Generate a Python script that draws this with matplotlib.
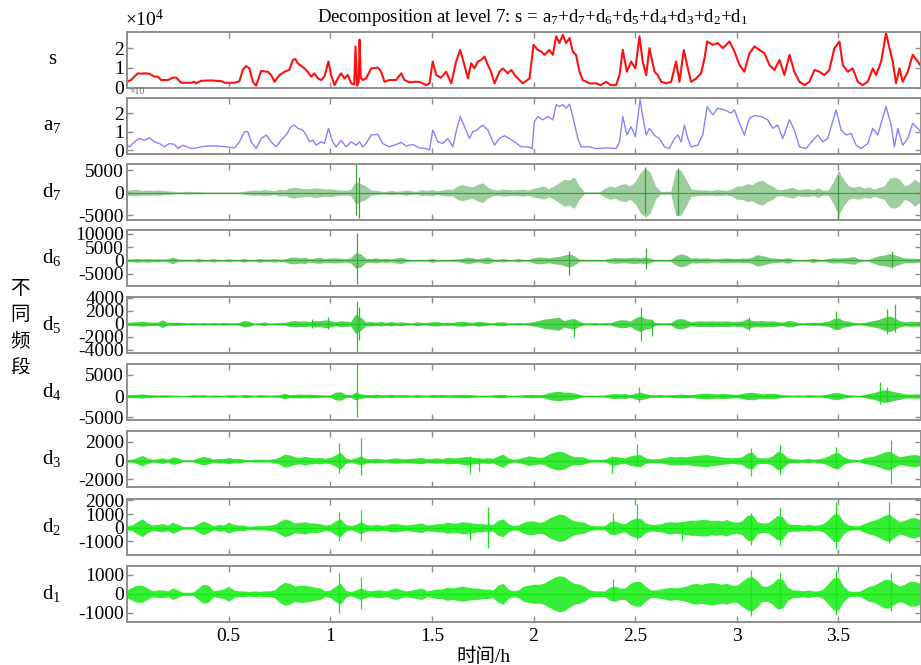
import numpy as np
import matplotlib.pyplot as plt

plt.rcParams['font.family'] = ['Liberation Serif', 'Noto Sans CJK SC']
plt.rcParams['mathtext.default'] = 'regular'

# original signal s and approximation a7 (units of 10^4)
s_t = [0.0, 0.02, 0.053, 0.07, 0.086, 0.111, 0.135, 0.152, 0.168, 0.201, 0.225, 0.242,
       0.267, 0.316, 0.33, 0.34, 0.365, 0.414, 0.465, 0.48, 0.529, 0.553, 0.57, 0.586,
       0.602, 0.619, 0.635, 0.66, 0.693, 0.709, 0.726, 0.75, 0.775, 0.799, 0.816, 0.828,
       0.84, 0.873, 0.889, 0.906, 0.922, 0.939, 0.955, 0.971, 0.991, 1.004, 1.021, 1.037,
       1.053, 1.07, 1.086, 1.103, 1.118, 1.124, 1.132, 1.14, 1.144, 1.15, 1.16, 1.176,
       1.201, 1.234, 1.25, 1.267, 1.291, 1.324, 1.349, 1.365, 1.39, 1.415, 1.439, 1.472,
       1.488, 1.504, 1.521, 1.545, 1.57, 1.595, 1.619, 1.639, 1.655, 1.677, 1.693, 1.709,
       1.726, 1.742, 1.759, 1.775, 1.791, 1.808, 1.832, 1.849, 1.873, 1.89, 1.914, 1.947,
       1.98, 2.0, 2.021, 2.037, 2.054, 2.078, 2.095, 2.111, 2.127, 2.144, 2.16, 2.177,
       2.193, 2.209, 2.226, 2.242, 2.275, 2.308, 2.33, 2.357, 2.38, 2.406, 2.423, 2.439,
       2.459, 2.48, 2.501, 2.521, 2.537, 2.554, 2.57, 2.595, 2.611, 2.628, 2.652, 2.677,
       2.701, 2.718, 2.739, 2.759, 2.775, 2.8, 2.824, 2.841, 2.854, 2.882, 2.906, 2.931,
       2.964, 2.988, 3.013, 3.037, 3.062, 3.087, 3.111, 3.136, 3.16, 3.185, 3.21, 3.234,
       3.259, 3.283, 3.308, 3.333, 3.357, 3.382, 3.406, 3.431, 3.455, 3.48, 3.505, 3.521,
       3.546, 3.57, 3.595, 3.619, 3.644, 3.669, 3.685, 3.71, 3.734, 3.751, 3.767, 3.783,
       3.8, 3.816, 3.841, 3.865, 3.89, 3.905]
s_v = [0.29, 0.38, 0.72, 0.7, 0.72, 0.7, 0.55, 0.55, 0.38, 0.38, 0.5, 0.5,
       0.24, 0.24, 0.29, 0.21, 0.34, 0.36, 0.32, 0.24, 0.24, 0.32, 0.9, 1.09,
       0.97, 0.29, 0.09, 0.84, 0.8, 0.63, 0.29, 0.63, 0.8, 0.9, 1.4, 1.45,
       1.23, 0.97, 0.8, 0.55, 0.72, 0.46, 0.38, 0.55, 1.32, 0.63, 0.12, 0.46,
       0.72, 0.46, 0.63, 0.21, 0.15, 2.09, 0.09, 0.3, 2.43, 0.5, 0.38, 0.46,
       0.97, 1.01, 0.8, 0.29, 0.38, 0.38, 0.72, 0.38, 0.26, 0.29, 0.29, 0.12,
       0.21, 1.32, 0.63, 0.5, 0.8, 0.21, 1.32, 1.91, 1.32, 0.46, 1.23, 0.97,
       1.32, 1.4, 1.57, 1.15, 0.8, 0.21, 0.8, 0.97, 0.72, 0.89, 0.55, 0.21,
       0.46, 2.17, 1.91, 1.83, 1.66, 1.91, 1.66, 2.6, 2.26, 2.68, 2.26, 2.51,
       1.83, 1.66, 0.8, 0.38, 0.21, 0.21, 0.12, 0.29, 0.12, 0.12, 0.63, 1.91,
       0.8, 1.32, 0.97, 2.6, 1.32, 0.63, 2.0, 0.8, 0.63, 0.29, 0.21, 0.29,
       1.32, 0.29, 1.91, 0.97, 0.29, 0.46, 0.72, 1.49, 2.34, 2.17, 2.26, 2.0,
       2.34, 1.83, 1.15, 0.8, 1.74, 2.09, 1.91, 1.74, 1.15, 0.89, 1.4, 0.63,
       1.66, 0.8, 0.29, 0.12, 0.29, 0.89, 0.8, 0.63, 0.89, 2.0, 2.34, 1.15,
       0.8, 0.97, 0.29, 0.12, 0.29, 0.97, 0.63, 1.32, 2.77, 2.0, 1.32, 0.21,
       0.97, 0.29, 0.8, 1.66, 1.32, 1.1]

a7_t = [0.0, 0.012, 0.037, 0.061, 0.086, 0.111, 0.135, 0.16, 0.184, 0.209, 0.234, 0.25,
        0.275, 0.316, 0.34, 0.365, 0.398, 0.447, 0.488, 0.529, 0.553, 0.578, 0.594, 0.611,
        0.635, 0.66, 0.685, 0.709, 0.734, 0.758, 0.783, 0.807, 0.824, 0.84, 0.865, 0.881,
        0.898, 0.914, 0.93, 0.955, 0.971, 0.991, 1.012, 1.029, 1.053, 1.078, 1.103, 1.127,
        1.144, 1.16, 1.176, 1.201, 1.234, 1.258, 1.291, 1.324, 1.349, 1.373, 1.406, 1.439,
        1.472, 1.488, 1.504, 1.529, 1.554, 1.578, 1.603, 1.619, 1.639, 1.66, 1.685, 1.701,
        1.721, 1.75, 1.775, 1.808, 1.832, 1.857, 1.881, 1.906, 1.939, 1.972, 1.993, 2.004,
        2.021, 2.045, 2.07, 2.095, 2.111, 2.127, 2.144, 2.16, 2.177, 2.193, 2.218, 2.234,
        2.275, 2.308, 2.357, 2.406, 2.423, 2.439, 2.459, 2.48, 2.501, 2.524, 2.537, 2.554,
        2.57, 2.595, 2.619, 2.644, 2.668, 2.693, 2.71, 2.726, 2.742, 2.759, 2.775, 2.808,
        2.832, 2.854, 2.882, 2.906, 2.939, 2.972, 2.988, 3.013, 3.037, 3.062, 3.087, 3.119,
        3.152, 3.177, 3.201, 3.226, 3.259, 3.283, 3.308, 3.341, 3.374, 3.398, 3.423, 3.447,
        3.488, 3.513, 3.537, 3.562, 3.587, 3.611, 3.644, 3.669, 3.693, 3.734, 3.759, 3.775,
        3.792, 3.816, 3.841, 3.865, 3.89, 3.905]
a7_v = [0.27, 0.18, 0.45, 0.63, 0.54, 0.67, 0.45, 0.36, 0.18, 0.36, 0.31, 0.09,
        0.27, 0.09, 0.12, 0.18, 0.23, 0.23, 0.18, 0.12, 0.45, 1.0, 1.0, 0.45,
        0.09, 0.63, 0.82, 0.45, 0.18, 0.54, 0.82, 1.27, 1.36, 1.18, 1.09, 0.82,
        0.45, 0.54, 0.27, 0.45, 0.36, 1.18, 0.45, 0.18, 0.54, 0.18, 0.45, 0.27,
        0.45, 0.18, 0.36, 0.82, 0.85, 0.36, 0.18, 0.31, 0.42, 0.23, 0.31, 0.12,
        0.09, 0.0, 1.09, 0.45, 0.36, 0.63, 0.18, 1.0, 1.82, 1.27, 0.63, 1.0,
        1.09, 1.36, 1.09, 0.27, 0.63, 0.78, 0.63, 0.45, 0.18, 0.18, 0.09, 1.54,
        1.82, 1.64, 1.82, 1.64, 2.46, 2.36, 2.46, 2.27, 2.49, 1.82, 0.63, 0.18,
        0.18, 0.09, 0.12, 0.09, 0.45, 1.82, 0.82, 1.27, 0.72, 2.73, 1.82, 0.82,
        1.18, 0.8, 0.63, 0.18, 0.09, 0.63, 0.82, 0.45, 1.36, 0.63, 0.18, 0.27,
        0.82, 2.36, 1.91, 2.27, 2.18, 2.0, 2.18, 1.45, 0.82, 1.73, 1.87, 1.82,
        1.64, 1.18, 1.36, 0.63, 1.64, 1.09, 0.18, 0.09, 0.54, 0.82, 0.45, 0.63,
        2.18, 1.09, 0.82, 0.91, 0.27, 0.09, 0.36, 1.18, 0.82, 2.36, 1.36, 0.18,
        1.18, 0.27, 0.63, 1.45, 1.18, 1.0]

# detail envelopes (half peak-to-peak), one value every 0.025 h from 0 to 3.9 h
d7_amp = [500, 700, 700, 500, 600, 500, 600, 500, 400, 300, 200, 250, 300, 250, 250, 200,
          150, 150, 150, 200, 150, 150, 150, 300, 500, 600, 500, 700, 600, 400, 800, 600,
          1100, 1200, 1000, 900, 900, 1100, 1000, 800, 900, 700, 600, 500, 700, 2500, 2000, 1500,
          600, 500, 300, 300, 500, 300, 400, 600, 400, 300, 700, 500, 700, 400, 600, 800,
          700, 1500, 1800, 1500, 1300, 1900, 2200, 1200, 700, 600, 800, 700, 600, 700, 800, 600,
          1000, 1200, 1500, 900, 1500, 2200, 3000, 2800, 3500, 1500, 200, 200, 200, 200, 1000, 1500,
          1200, 1800, 2000, 1500, 2500, 4500, 5500, 4500, 1500, 300, 300, 300, 5200, 5000, 3000, 800,
          700, 600, 600, 500, 700, 600, 500, 800, 1500, 1500, 2000, 1800, 2500, 2800, 2000, 1500,
          700, 700, 1000, 1200, 700, 800, 900, 600, 1100, 500, 600, 2500, 5000, 3000, 1500, 1200,
          1500, 1000, 1300, 800, 1200, 1500, 3200, 3500, 3000, 1500, 2000, 3000, 2200]
d6_amp = [500, 500, 800, 500, 700, 500, 600, 400, 600, 1300, 500, 400, 400, 300, 700, 400,
          300, 700, 300, 300, 600, 300, 300, 700, 300, 300, 700, 500, 400, 700, 400, 500,
          1200, 1300, 1000, 1200, 600, 1000, 1100, 700, 900, 1000, 800, 600, 1000, 3000, 2500, 800,
          700, 1000, 600, 800, 500, 1000, 1200, 500, 300, 300, 300, 300, 800, 300, 300, 300,
          400, 500, 800, 1200, 1000, 500, 1000, 1300, 500, 400, 700, 300, 300, 700, 300, 300,
          1000, 1300, 1200, 900, 1300, 1500, 2000, 2500, 1800, 400, 300, 300, 300, 300, 300, 900,
          1100, 1000, 900, 1100, 1200, 1000, 1300, 800, 300, 300, 300, 400, 1800, 2500, 2000, 900,
          1000, 800, 1000, 700, 600, 800, 900, 800, 700, 900, 800, 1200, 2200, 1800, 1300, 900,
          800, 600, 1100, 500, 300, 300, 400, 900, 400, 300, 800, 1000, 900, 1000, 1200, 1500,
          600, 300, 400, 1200, 1800, 2000, 2500, 2200, 1500, 900, 900, 800, 700]
d5_amp = [200, 300, 300, 400, 300, 250, 250, 600, 200, 250, 250, 200, 150, 200, 150, 200,
          150, 200, 150, 200, 150, 150, 200, 500, 400, 100, 150, 300, 100, 150, 200, 200,
          400, 500, 400, 450, 350, 500, 450, 600, 500, 300, 450, 400, 350, 1500, 1000, 300,
          350, 250, 350, 200, 350, 200, 300, 200, 150, 300, 200, 200, 300, 350, 200, 250,
          200, 350, 400, 300, 200, 400, 300, 200, 150, 300, 300, 150, 150, 200, 150, 200,
          350, 500, 700, 800, 900, 1000, 500, 700, 800, 400, 150, 150, 200, 150, 200, 150,
          400, 600, 600, 400, 900, 1200, 800, 700, 200, 150, 150, 200, 700, 800, 600, 300,
          400, 450, 400, 450, 400, 400, 450, 350, 400, 400, 800, 500, 450, 500, 400, 450,
          350, 250, 500, 450, 200, 150, 200, 250, 200, 300, 400, 800, 900, 500, 400, 200,
          150, 200, 400, 500, 700, 1000, 1200, 900, 500, 300, 400, 350, 400]
d4_amp = [300, 400, 400, 500, 350, 300, 250, 300, 250, 200, 150, 100, 150, 300, 250, 300,
          150, 250, 200, 150, 300, 300, 150, 350, 300, 150, 300, 250, 200, 250, 300, 650,
          350, 400, 450, 400, 450, 350, 300, 250, 300, 900, 1000, 400, 300, 900, 500, 400,
          350, 450, 300, 300, 400, 250, 300, 300, 200, 350, 250, 200, 350, 300, 350, 250,
          300, 350, 400, 400, 300, 200, 200, 200, 250, 400, 400, 200, 150, 200, 300, 400,
          400, 300, 400, 800, 1000, 1100, 900, 900, 700, 400, 150, 200, 150, 200, 250, 500,
          600, 500, 600, 300, 700, 900, 600, 300, 300, 350, 250, 300, 400, 450, 400, 300,
          500, 600, 650, 600, 500, 600, 550, 450, 400, 600, 800, 900, 700, 500, 600, 650,
          500, 300, 250, 200, 250, 200, 300, 250, 200, 300, 500, 800, 800, 500, 300, 200,
          150, 300, 600, 800, 1200, 1500, 1300, 1000, 800, 500, 450, 500, 500]
d3_amp = [150, 150, 350, 550, 300, 150, 200, 300, 150, 400, 300, 100, 100, 100, 300, 450,
          350, 150, 250, 200, 350, 200, 250, 150, 100, 150, 150, 150, 150, 200, 400, 700,
          600, 400, 350, 450, 350, 300, 350, 250, 350, 600, 900, 300, 150, 300, 500, 250,
          200, 250, 200, 150, 250, 300, 200, 200, 250, 300, 350, 200, 250, 300, 200, 350,
          300, 300, 400, 450, 350, 300, 250, 300, 250, 500, 700, 300, 150, 200, 350, 500,
          450, 350, 400, 700, 900, 1000, 900, 600, 400, 450, 350, 150, 150, 150, 150, 400,
          450, 350, 300, 500, 600, 650, 300, 200, 200, 250, 350, 450, 400, 450, 400, 500,
          550, 600, 650, 550, 500, 400, 350, 300, 350, 400, 800, 900, 350, 300, 300, 500,
          1000, 800, 300, 200, 200, 150, 250, 150, 200, 300, 500, 800, 850, 400, 200, 150,
          100, 300, 400, 500, 700, 900, 1000, 700, 400, 500, 600, 650, 550]
d2_amp = [150, 200, 450, 650, 350, 200, 250, 300, 200, 400, 250, 100, 100, 100, 300, 500,
          350, 150, 250, 200, 400, 250, 200, 200, 100, 150, 150, 150, 200, 250, 450, 650,
          550, 350, 400, 450, 350, 350, 300, 200, 250, 500, 650, 250, 150, 250, 450, 250,
          200, 250, 200, 200, 300, 300, 250, 200, 250, 300, 350, 200, 250, 300, 300, 400,
          350, 350, 450, 400, 350, 300, 300, 250, 250, 550, 650, 300, 150, 200, 400, 500,
          500, 400, 450, 700, 850, 1000, 950, 700, 500, 450, 400, 200, 150, 150, 150, 450,
          500, 350, 300, 550, 700, 700, 350, 250, 250, 300, 400, 450, 400, 450, 500, 550,
          550, 600, 600, 500, 550, 500, 600, 450, 400, 500, 900, 950, 450, 350, 350, 600,
          900, 800, 300, 250, 250, 200, 250, 200, 200, 300, 600, 1000, 1000, 450, 200, 150,
          150, 300, 450, 550, 700, 900, 1000, 700, 450, 550, 700, 750, 600]
d1_amp = [200, 350, 450, 450, 300, 150, 200, 200, 150, 300, 200, 80, 80, 80, 300, 500,
          450, 150, 200, 250, 400, 200, 150, 150, 120, 150, 130, 150, 150, 200, 450, 600,
          550, 400, 450, 450, 400, 350, 300, 150, 200, 400, 550, 200, 100, 200, 300, 200,
          150, 200, 200, 150, 250, 300, 200, 150, 200, 250, 300, 150, 200, 250, 250, 350,
          300, 350, 400, 350, 300, 300, 250, 250, 200, 450, 550, 250, 150, 200, 400, 450,
          500, 500, 550, 700, 850, 950, 900, 700, 550, 500, 400, 200, 150, 150, 150, 350,
          400, 300, 300, 550, 650, 650, 400, 200, 200, 250, 300, 350, 300, 350, 400, 500,
          550, 500, 550, 600, 550, 500, 550, 450, 450, 650, 850, 900, 700, 400, 400, 550,
          800, 750, 350, 200, 200, 150, 200, 150, 150, 250, 550, 850, 850, 400, 150, 130,
          130, 250, 400, 450, 600, 750, 750, 550, 400, 500, 650, 650, 550]

# isolated spikes: time, top, bottom
d7_spikes = [(1.128, 6300, -5000), (1.14, 3500, -5600), (2.55, 5700, -4500), (2.71, 5400, -5000),
             (3.5, 4000, -5800)]
d6_spikes = [(1.13, 10500, -8900), (2.175, 3700, -5500), (2.555, 4700, -3300), (3.765, 3700, -3000)]
d5_spikes = [(1.13, 3500, -4300), (1.14, 2500, -2500), (0.91, 750, -600), (0.99, 1000, -800),
             (2.2, 600, -2000), (2.53, 2500, -2600), (2.585, 800, -1800), (3.06, 1000, -1000),
             (3.49, 2000, -800), (3.74, 2200, -1500), (3.776, 3000, -1200)]
d4_spikes = [(1.132, 7400, -5000), (2.52, 2200, -1500), (3.705, 3400, -1800), (3.74, 2000, -1500)]
d3_spikes = [(1.045, 1850, -1300), (1.15, 2400, -1500), (1.685, 500, -1300), (1.73, 300, -1100),
             (2.385, 500, -1300), (2.51, 1800, -500), (3.07, 1300, -1650), (3.21, 1700, -1400),
             (3.49, 1400, -900), (3.76, 2200, -2500)]
d2_spikes = [(1.045, 1150, -1000), (1.15, 1270, -1000), (1.685, 300, -900), (1.775, 1500, -1500),
             (2.39, 1100, -400), (2.51, 1750, -900), (2.73, 300, -1000), (3.07, 1100, -1250),
             (3.21, 1500, -1250), (3.49, 1870, -1500), (3.75, 1870, -1100)]
d1_spikes = [(1.045, 1080, -1000), (1.15, 900, -800), (2.39, 800, -300), (3.07, 1250, -1180),
             (3.21, 1100, -700), (3.49, 1250, -1100), (3.76, 1100, -900)]

x_ticks = [0.5, 1, 1.5, 2, 2.5, 3, 3.5]
x_ticklabels = ['0.5', '1', '1.5', '2', '2.5', '3', '3.5']

W, H = 921, 665
fig = plt.figure(figsize=(W / 100, H / 100), dpi=100)

tops = [32, 98, 164, 230, 297, 364, 431, 499, 566]
ax_h = 55.5
left, right = 127, 921

rows = [
    ('s', 's', (0, 2.82), [0, 1, 2]),
    ('a7', 'a$_7$', (-0.18, 2.82), [0, 1, 2]),
    ('d7', 'd$_7$', (-6000, 6400), [-5000, 0, 5000]),
    ('d6', 'd$_6$', (-9500, 11500), [-5000, 0, 5000, 10000]),
    ('d5', 'd$_5$', (-4400, 4100), [-4000, -2000, 0, 2000, 4000]),
    ('d4', 'd$_4$', (-5500, 7500), [-5000, 0, 5000]),
    ('d3', 'd$_3$', (-2750, 3150), [-2000, 0, 2000]),
    ('d2', 'd$_2$', (-1950, 2100), [-1000, 0, 1000, 2000]),
    ('d1', 'd$_1$', (-1460, 1460), [-1000, 0, 1000]),
]
# envelope colour, fill alpha
details = {
    'd7': (d7_amp, d7_spikes, '#3f9f3f', 0.5),
    'd6': (d6_amp, d6_spikes, '#35ad35', 0.65),
    'd5': (d5_amp, d5_spikes, '#26c726', 0.8),
    'd4': (d4_amp, d4_spikes, '#1fd61f', 0.85),
    'd3': (d3_amp, d3_spikes, '#14e414', 0.85),
    'd2': (d2_amp, d2_spikes, '#10ea10', 0.85),
    'd1': (d1_amp, d1_spikes, '#12ec12', 0.85),
}

frame = '#8e8e8e'
for i, (key, label, ylim, yticks) in enumerate(rows):
    top = tops[i]
    ax = fig.add_axes([left / W, 1 - (top + ax_h) / H, (right - left) / W, ax_h / H])
    if key == 's':
        ax.plot(s_t, s_v, color='#ff1010', lw=1.5)
    elif key == 'a7':
        ax.plot(a7_t, a7_v, color='#8484ff', lw=1.0)
    else:
        amp, spikes, color, alpha = details[key]
        amp = np.array(amp, dtype=float)
        t_d = np.arange(len(amp)) * 0.025
        ax.fill_between(t_d, -amp, amp, color=color, lw=0, alpha=alpha)
        ax.axhline(0, color=color, lw=0.9)
        st = [p[0] for p in spikes]
        ax.vlines(st, [p[2] for p in spikes], [p[1] for p in spikes], color=color, lw=0.9)

    ax.set_xlim(0, 3.906)
    ax.set_ylim(*ylim)
    ax.set_yticks(yticks)
    ax.set_yticklabels([str(v) for v in yticks])
    ax.set_xticks(x_ticks)
    if key == 'd1':
        ax.set_xticklabels(x_ticklabels)
    else:
        ax.set_xticklabels([])
    ax.tick_params(direction='in', length=4, width=1, color=frame, top=True, right=True,
                   labelsize=14, pad=2)
    ax.tick_params(axis='x', pad=5)
    for sp in ax.spines.values():
        sp.set_color(frame)
        sp.set_linewidth(1.4)

    fig.text(52 / W, 1 - (top + ax_h / 2) / H, label, fontsize=15, ha='center', va='center')

fig.text(125 / W, 1 - 19 / H, '×10$^4$', fontsize=14, ha='left', va='center')
fig.text(129 / W, 1 - 91 / H, '×10', fontsize=7, color='#666666', ha='left', va='center')
fig.text(533 / W, 1 - 18 / H,
         'Decomposition at level 7: s = a$_7$+d$_7$+d$_6$+d$_5$+d$_4$+d$_3$+d$_2$+d$_1$',
         fontsize=13.5, ha='center', va='center')
fig.text(20 / W, 1 - 328 / H, '不\n同\n频\n段', family=['Noto Sans CJK SC'], fontsize=14,
         ha='center', va='center', linespacing=1.35)
fig.text(483 / W, 1 - 657 / H, '时间/h', fontsize=14, ha='center', va='center')

fig.savefig('out.png', dpi=100)
